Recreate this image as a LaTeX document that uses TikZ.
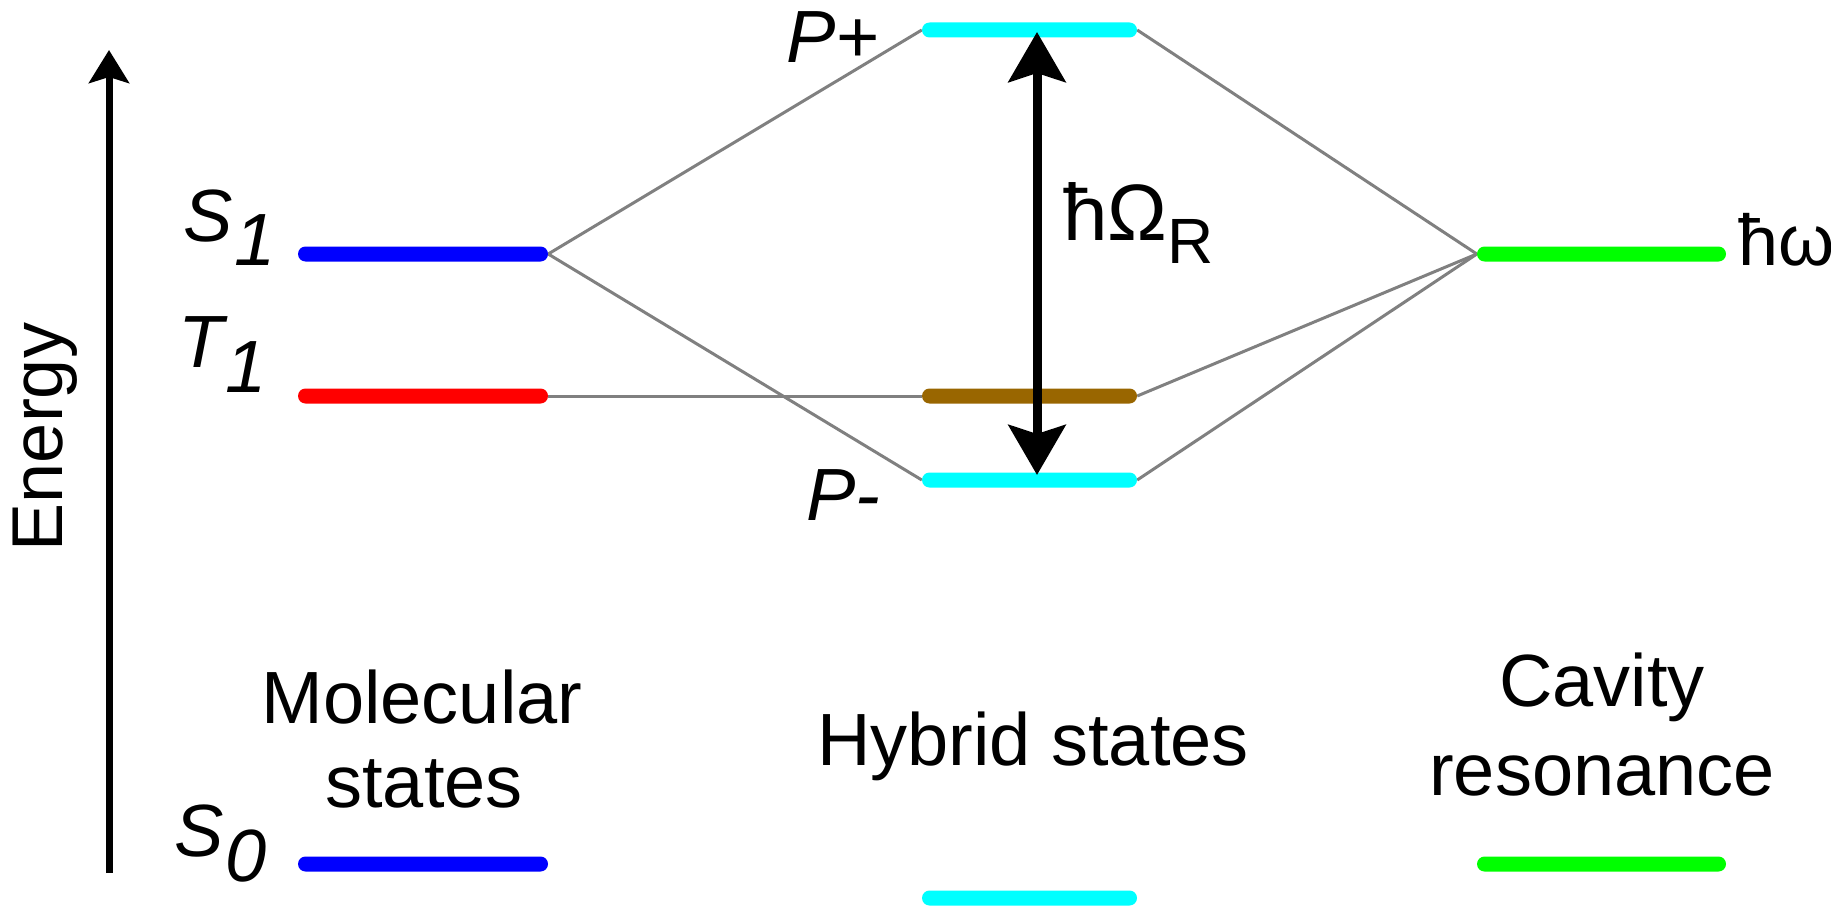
\documentclass[tikz,border=0pt]{standalone}
\usepackage{fontspec}
\setmainfont{Liberation Sans}
\usetikzlibrary{arrows.meta,calc}
\definecolor{lvblue}{RGB}{0,0,255}
\definecolor{lvred}{RGB}{255,0,0}
\definecolor{lvcyan}{RGB}{0,255,255}
\definecolor{lvbrown}{RGB}{153,102,0}
\definecolor{lvgreen}{RGB}{0,255,0}
\definecolor{connGray}{RGB}{128,128,128}
\pgfdeclarelayer{bg}
\pgfsetlayers{bg,main}
\begin{document}
\begin{tikzpicture}[x=1pt,y=-1pt,
  level/.style={rectangle, inner sep=0pt, minimum height=15pt, rounded corners=7.5pt, draw=none},
  mollevel/.style={level, minimum width=250pt},
  hyblevel/.style={level, minimum width=215pt},
  cavlevel/.style={level, minimum width=249pt},
  conn/.style={draw=connGray, line width=3pt},
  lab/.style={inner sep=0pt, font=\fontsize{74}{88}\selectfont},
  ilab/.style={inner sep=0pt, font=\fontsize{74}{88}\selectfont\itshape},
  earrow/.style={line width=7pt, -{Stealth[length=33pt,width=40pt,inset=6pt]}},
  rabi/.style={line width=9pt, {Stealth[length=50pt,width=57pt,inset=9pt]}-{Stealth[length=50pt,width=57pt,inset=9pt]}}
]
\useasboundingbox (0,0) rectangle (1831,907);

% levels
\node[mollevel, fill=lvblue] (S1) at (423,254) {};
\node[mollevel, fill=lvred] (T1) at (423,396) {};
\node[mollevel, fill=lvblue] (S0) at (423,864) {};
\node[hyblevel, fill=lvcyan] (Pp) at (1029.5,30) {};
\node[hyblevel, fill=lvbrown] (Br) at (1029.5,396) {};
\node[hyblevel, fill=lvcyan] (Pm) at (1029.5,480) {};
\node[hyblevel, fill=lvcyan] (Pb) at (1029.5,898) {};
\node[cavlevel, fill=lvgreen] (Cav) at (1601.5,254) {};
\node[cavlevel, fill=lvgreen] (CavB) at (1601.5,864) {};

% connectors
\begin{pgfonlayer}{bg}
\draw[conn] (S1.east) -- (Pp.west);
\draw[conn] (S1.east) -- (Pm.west);
\draw[conn] (T1.east) -- (Br.west);
\draw[conn] (Pp.east) -- (Cav.west);
\draw[conn] (Br.east) -- (Cav.west);
\draw[conn] (Pm.east) -- (Cav.west);
\end{pgfonlayer}

% energy axis
\coordinate (eBot) at (109,873);
\coordinate (eTop) at (109,50);
\draw[earrow] (eBot) -- (eTop);
\node[lab, anchor=base, rotate=90, font=\fontsize{72}{86}\selectfont] (energy) at (62,437) {Energy};

% Rabi splitting arrow
\draw[rabi] ([xshift=7.5pt,yshift=5pt]Pm.center) -- ([xshift=7.5pt,yshift=-2pt]Pp.center);
\node[inner sep=0pt, anchor=base west, font=\fontsize{80}{90}\selectfont] (rabiL) at (1063,240) {ħΩ\raisebox{-23pt}{\fontsize{64}{70}\selectfont R}};
\node[lab, anchor=base west, font=\fontsize{72}{86}\selectfont] (omL) at (1738,265) {ħω};

% state labels
\node[ilab, anchor=base west] (lS1) at (183,241) {S\kern2pt\raisebox{-24pt}{1}};
\node[ilab, anchor=base west] (lT1) at (178,367) {T\kern2pt\raisebox{-25pt}{1}};
\node[ilab, anchor=base west] (lS0) at (174,856) {S\kern2pt\raisebox{-25pt}{0}};
\node[ilab, anchor=base west] (lPp) at (786,63) {P+};
\node[ilab, anchor=base west] (lPm) at (806,520) {P-};

% group labels
\node[lab, anchor=base] (molA) at (422,723) {Molecular};
\node[lab, anchor=base] (molB) at (424,807) {states};
\node[lab, anchor=base] (hyb) at (1033,765) {Hybrid states};
\node[lab, anchor=base] (cavA) at (1602,706) {Cavity};
\node[lab, anchor=base] (cavB) at (1602,795) {resonance};
\end{tikzpicture}
\end{document}
